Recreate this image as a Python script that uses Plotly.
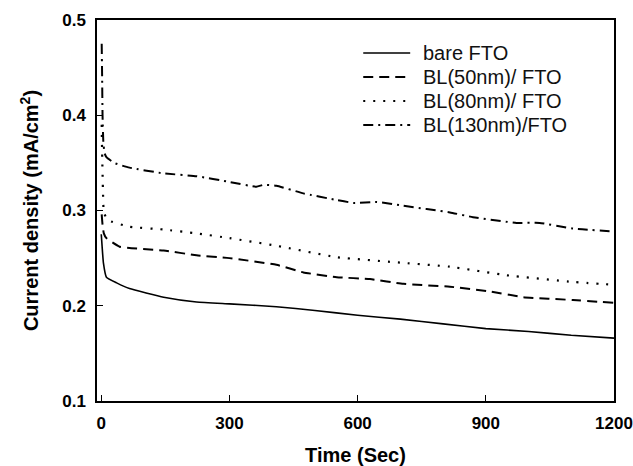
import plotly.graph_objects as go

# Time (s) and current density (mA/cm^2)
t_bare = [0, 2, 5, 12, 36, 66, 146, 223, 300, 410, 500, 600, 700, 800, 900, 1000, 1100, 1200]
j_bare = [0.275, 0.262, 0.245, 0.230, 0.224, 0.218, 0.209, 0.204, 0.202, 0.199, 0.195, 0.190, 0.186, 0.181, 0.176, 0.173, 0.169, 0.166]

t_50 = [1, 3, 6, 12, 43, 146, 223, 300, 410, 473, 551, 629, 707, 816, 910, 988, 1104, 1200]
j_50 = [0.296, 0.285, 0.276, 0.271, 0.262, 0.258, 0.253, 0.250, 0.243, 0.235, 0.230, 0.228, 0.223, 0.220, 0.215, 0.209, 0.206, 0.203]

t_80 = [1, 2, 4, 6, 15, 66, 146, 223, 300, 410, 551, 707, 816, 949, 1104, 1200]
j_80 = [0.390, 0.360, 0.320, 0.298, 0.290, 0.283, 0.280, 0.276, 0.271, 0.263, 0.251, 0.245, 0.241, 0.232, 0.225, 0.222]

t_130 = [1, 2, 3, 5, 8, 12, 30, 66, 146, 223, 300, 363, 380, 410, 473, 551, 590, 645, 707, 816, 870, 972, 1026, 1104, 1200]
j_130 = [0.475, 0.440, 0.400, 0.370, 0.360, 0.356, 0.350, 0.345, 0.339, 0.336, 0.330, 0.325, 0.327, 0.326, 0.318, 0.311, 0.308, 0.309, 0.305, 0.298, 0.293, 0.287, 0.287, 0.281, 0.278]

names = ["bare FTO", "BL(50nm)/ FTO", "BL(80nm)/ FTO", "BL(130nm)/FTO"]
dashes = ["solid", "10px,6px", "2px,8px", "10px,5px,2px,5px"]
widths = [1.6, 2.0, 2.2, 2.0]

FONT = "Liberation Sans, Arial, sans-serif"

# plot area in pixels (for placing the hand-drawn legend)
W, H = 633, 466
ML, MR, MT, MB = 96.5, 19, 20, 65
PW, PH = W - ML - MR, H - MT - MB


def px_x(p):
    return (p - ML) / PW


def px_y(p):
    return (H - MB - p) / PH


fig = go.Figure()
for t, j, n, d, w in zip([t_bare, t_50, t_80, t_130], [j_bare, j_50, j_80, j_130], names, dashes, widths):
    fig.add_trace(go.Scatter(x=t, y=j, mode="lines", name=n, showlegend=False,
                             line=dict(color="black", width=w, dash=d, shape="spline", smoothing=0.4)))

# legend (sample lines + labels)
shapes, annotations = [], []
row_y = [53, 77, 101, 125]
for n, d, w, ry in zip(names, dashes, widths, row_y):
    shapes.append(dict(type="line", xref="paper", yref="paper",
                       x0=px_x(363), x1=px_x(410), y0=px_y(ry), y1=px_y(ry),
                       line=dict(color="black", width=w, dash=d)))
    annotations.append(dict(xref="paper", yref="paper", x=px_x(421), y=px_y(ry),
                            xanchor="left", yanchor="middle", showarrow=False, text=n,
                            font=dict(family=FONT, size=20, color="#111")))

axis_font = dict(family=FONT, size=17, color="black")
title_font = dict(family=FONT, size=20, color="black")
fig.update_layout(
    width=W, height=H,
    margin=dict(l=ML, r=MR, t=MT, b=MB),
    paper_bgcolor="white", plot_bgcolor="white",
    font=dict(family=FONT, color="black"),
    showlegend=False,
    shapes=shapes, annotations=annotations,
    xaxis=dict(range=[-10, 1200], tickvals=[0, 300, 600, 900, 1200],
               ticktext=["<b>0</b>", "<b>300</b>", "<b>600</b>", "<b>900</b>", "<b>1200</b>"],
               ticks="inside", ticklen=6, tickwidth=1.3, tickcolor="black",
               showline=True, linecolor="black", linewidth=1.5, mirror=True, automargin=False,
               showgrid=False, zeroline=False, tickfont=axis_font, ticklabelstandoff=6,
               title=dict(text="<b>Time (Sec)</b>", font=title_font, standoff=18)),
    yaxis=dict(range=[0.1, 0.5], tickvals=[0.1, 0.2, 0.3, 0.4, 0.5],
               ticktext=["<b>0.1</b>", "<b>0.2</b>", "<b>0.3</b>", "<b>0.4</b>", "<b>0.5</b>"],
               ticks="inside", ticklen=6, tickwidth=1.3, tickcolor="black",
               showline=True, linecolor="black", linewidth=1.5, mirror=True, automargin=False,
               showgrid=False, zeroline=False, tickfont=axis_font, ticklabelstandoff=6,
               title=dict(text="<b>Current density (mA/cm<sup>2</sup>)</b>", font=title_font, standoff=18)),
)

fig.write_html("out.html")
